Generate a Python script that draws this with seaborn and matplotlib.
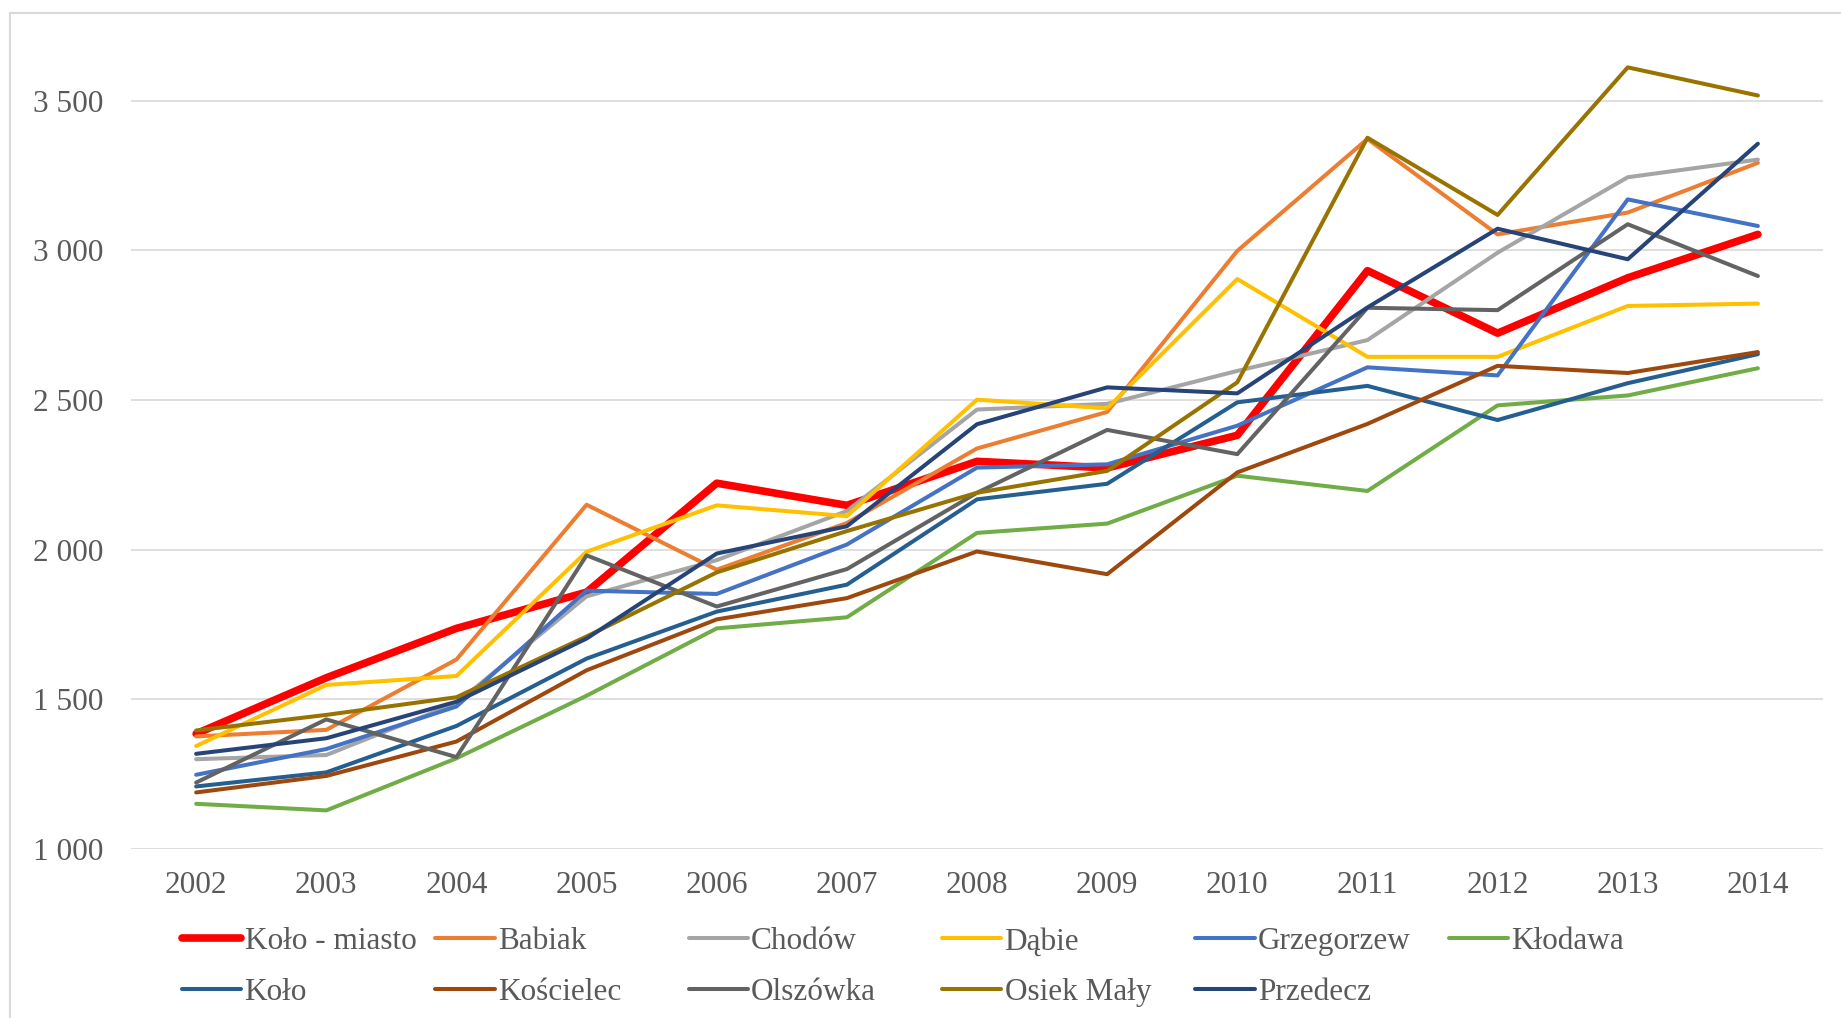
import matplotlib
matplotlib.use("Agg")
import matplotlib.pyplot as plt
import matplotlib.ticker as mticker
from matplotlib.patches import Rectangle
import seaborn as sns
import pandas as pd

# dane
lata = [2002, 2003, 2004, 2005, 2006, 2007, 2008, 2009, 2010, 2011, 2012, 2013, 2014]

kolo_miasto = [1385, 1572, 1737, 1858, 2222, 2148, 2295, 2273, 2382, 2932, 2723, 2908, 3053]
babiak = [1376, 1398, 1633, 2150, 1933, 2089, 2338, 2460, 2998, 3372, 3053, 3126, 3292]
chodow = [1300, 1314, 1487, 1844, 1965, 2129, 2468, 2487, 2597, 2700, 2992, 3244, 3303]
dabie = [1344, 1548, 1578, 1993, 2148, 2112, 2501, 2472, 2904, 2644, 2644, 2814, 2822]
grzegorzew = [1248, 1334, 1476, 1863, 1852, 2017, 2274, 2285, 2414, 2609, 2582, 3170, 3081]
klodawa = [1151, 1129, 1303, 1512, 1737, 1774, 2056, 2087, 2247, 2196, 2482, 2515, 2606]
kolo = [1209, 1256, 1411, 1636, 1793, 1883, 2168, 2220, 2492, 2547, 2433, 2556, 2653]
koscielec = [1189, 1244, 1359, 1597, 1767, 1838, 1994, 1918, 2258, 2420, 2614, 2590, 2660]
olszowka = [1222, 1433, 1307, 1981, 1810, 1935, 2190, 2400, 2319, 2808, 2800, 3087, 2914]
osiek_maly = [1396, 1448, 1507, 1710, 1924, 2062, 2190, 2263, 2559, 3376, 3118, 3611, 3517]
przedecz = [1318, 1370, 1492, 1703, 1987, 2078, 2419, 2542, 2522, 2809, 3072, 2970, 3356]

nazwy = ["Koło - miasto", "Babiak", "Chodów", "Dąbie", "Grzegorzew", "Kłodawa",
         "Koło", "Kościelec", "Olszówka", "Osiek Mały", "Przedecz"]
serie = [kolo_miasto, babiak, chodow, dabie, grzegorzew, klodawa,
         kolo, koscielec, olszowka, osiek_maly, przedecz]
kolory = ["#FF0000", "#ED7D31", "#A5A5A5", "#FFC000", "#4472C4", "#70AD47",
          "#255E91", "#9E480E", "#636363", "#997300", "#264478"]

sns.set_style("white")
plt.rcParams["font.family"] = ["Liberation Serif", "DejaVu Serif"]
szary = "#595959"
rozmiar = 22.5

fig = plt.figure(figsize=(18.41, 10.18), dpi=100)
ax = fig.add_axes([0.0712, 0.166, 0.919, 0.794])

linie = []
for nazwa, wartosci, kolor in zip(nazwy, serie, kolory):
    df = pd.DataFrame({"rok": lata, "wartosc": wartosci})
    grubosc = 5.5 if nazwa == "Koło - miasto" else 2.9
    sns.lineplot(data=df, x="rok", y="wartosc", color=kolor, linewidth=grubosc,
                 ax=ax, label=nazwa, legend=False)
    linie.append(ax.lines[-1])

ax.set_xlim(2001.5, 2014.5)
ax.set_ylim(1000, 3700)
ax.set_xticks(lata)
ax.set_yticks([1000, 1500, 2000, 2500, 3000, 3500])
ax.yaxis.set_major_formatter(mticker.FuncFormatter(lambda v, p: f"{int(v):,}".replace(",", " ")))
ax.set_xlabel("")
ax.set_ylabel("")
ax.grid(axis="y", color="#D9D9D9", linewidth=1.2)
ax.set_axisbelow(True)
for s in ax.spines.values():
    s.set_visible(False)
ax.tick_params(axis="both", length=0, labelsize=rozmiar, labelcolor=szary)
ax.tick_params(axis="y", pad=20)
ax.tick_params(axis="x", pad=15.5)

# legenda - kolumny o stałej szerokości jak w Excelu
x0 = 0.0989
dx = 0.1376
for k in range(6):
    idx = [k, k + 6] if k + 6 < len(nazwy) else [k]
    leg = fig.legend([linie[i] for i in idx], [nazwy[i] for i in idx],
                     loc="upper left", bbox_to_anchor=(x0 + k * dx, 0.089),
                     frameon=False, fontsize=rozmiar, handlelength=1.9,
                     handletextpad=0.1, labelspacing=0.68, borderpad=0,
                     borderaxespad=0)
    for t in leg.get_texts():
        t.set_color(szary)

# ramka wykresu
fig.patches.append(Rectangle((0.0054, -0.01), 1.01, 0.997, transform=fig.transFigure,
                             fill=False, edgecolor="#D9D9D9", linewidth=1.5))

fig.savefig("out.png", dpi=100)
